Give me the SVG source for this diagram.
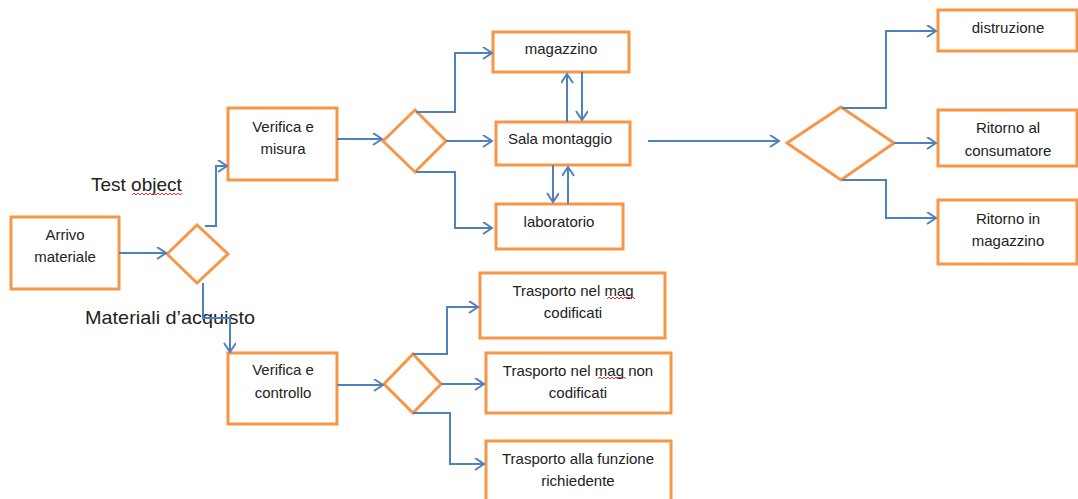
<svg xmlns="http://www.w3.org/2000/svg" width="1078" height="499" viewBox="0 0 1078 499">
<style>
.box{fill:#fff;stroke:#F79646;stroke-width:3}
.dia{fill:#fff;stroke:#F79646;stroke-width:3}
.t{font-family:"Liberation Sans",Arial,sans-serif;font-size:15px;fill:#222;text-anchor:middle}
.lbl{font-family:"Liberation Sans",Arial,sans-serif;font-size:19px;fill:#222}
.c{fill:none;stroke:#4F81BD;stroke-width:2;marker-end:url(#ah)}
.sq{fill:none;stroke:#E03030;stroke-width:1}
</style>
<defs>
<marker id="ah" markerUnits="userSpaceOnUse" markerWidth="12" markerHeight="14" refX="10" refY="6" orient="auto">
<path d="M1,0 L10,6 L1,12" fill="none" stroke="#4F81BD" stroke-width="2"/>
</marker>
</defs>
<rect width="1078" height="499" fill="#fff"/>

<g id="labels">
<text class="lbl" x="91" y="191">Test object</text>
<path class="sq" d="M132,195 l2,-2 l2,2 l2,-2 l2,2 l2,-2 l2,2 l2,-2 l2,2 l2,-2 l2,2 l2,-2 l2,2 l2,-2 l2,2 l2,-2 l2,2 l2,-2 l2,2 l2,-2 l2,2 l2,-2 l2,2 l2,-2 l2,2 l2,-2"/>
<text class="lbl" x="85" y="324" textLength="170" lengthAdjust="spacingAndGlyphs">Materiali d’acquisto</text>
</g>

<g id="arrivo"><rect class="box" x="11" y="217" width="108" height="72"/><text class="t" x="65" y="240">Arrivo</text><text class="t" x="65" y="262">materiale</text></g>
<g id="d1"><polygon class="dia" points="167,254 197,225 228,254 197,283"/></g>
<g id="verifica-misura"><rect class="box" x="228" y="108" width="109" height="72"/><text class="t" x="283" y="132">Verifica e</text><text class="t" x="283" y="154">misura</text></g>
<g id="d2"><polygon class="dia" points="383,141 415,110 446,141 415,172"/></g>
<g id="magazzino"><rect class="box" x="493" y="32" width="136" height="40"/><text class="t" x="561" y="54">magazzino</text></g>
<g id="sala"><rect class="box" x="496" y="122" width="134" height="43"/><text class="t" x="560" y="144">Sala montaggio</text></g>
<g id="laboratorio"><rect class="box" x="496" y="204" width="127" height="45"/><text class="t" x="559" y="227">laboratorio</text></g>
<g id="d4"><polygon class="dia" points="787,143 841,107 894,143 841,180"/></g>
<g id="distruzione"><rect class="box" x="938" y="10" width="139" height="41"/><text class="t" x="1008" y="33">distruzione</text></g>
<g id="consumatore"><rect class="box" x="938" y="110" width="139" height="56"/><text class="t" x="1008" y="133">Ritorno al</text><text class="t" x="1008" y="156">consumatore</text></g>
<g id="ritorno-mag"><rect class="box" x="938" y="200" width="139" height="64"/><text class="t" x="1008" y="224">Ritorno in</text><text class="t" x="1008" y="246">magazzino</text></g>
<g id="verifica-controllo"><rect class="box" x="228" y="353" width="109" height="71"/><text class="t" x="283" y="375">Verifica e</text><text class="t" x="283" y="398">controllo</text></g>
<g id="d3"><polygon class="dia" points="384,384 413,354 441,384 413,413"/></g>
<g id="tr-cod"><rect class="box" x="480" y="273" width="185" height="65"/><text class="t" x="573" y="296">Trasporto nel mag</text><text class="t" x="573" y="318">codificati</text>
<path class="sq" d="M607,299 l2,-2 l2,2 l2,-2 l2,2 l2,-2 l2,2 l2,-2 l2,2 l2,-2 l2,2 l2,-2 l2,2 l2,-2 l2,2"/></g>
<g id="tr-noncod"><rect class="box" x="486" y="353" width="185" height="60"/><text class="t" x="578" y="376">Trasporto nel mag non</text><text class="t" x="578" y="398">codificati</text>
<path class="sq" d="M598,379 l2,-2 l2,2 l2,-2 l2,2 l2,-2 l2,2 l2,-2 l2,2 l2,-2 l2,2 l2,-2 l2,2 l2,-2 l2,2"/></g>
<g id="tr-funz"><rect class="box" x="486" y="441" width="185" height="62"/><text class="t" x="578" y="464">Trasporto alla funzione</text><text class="t" x="578" y="486">richiedente</text></g>

<g id="connectors">
<path class="c" d="M119,253 H166"/>
<path class="c" d="M205,226 H216 V166 H227"/>
<path class="c" d="M203,283 V318 H230 V352"/>
<path class="c" d="M337,139 H382"/>
<path class="c" d="M416,112 H455 V53 H492"/>
<path class="c" d="M446,141 H492"/>
<path class="c" d="M416,172 H455 V228 H492"/>
<path class="c" d="M567,122 V74"/>
<path class="c" d="M582,72 V120"/>
<path class="c" d="M553,165 V202"/>
<path class="c" d="M568,204 V167"/>
<path class="c" d="M648,141 H779"/>
<path class="c" d="M842,108 H886 V31 H936"/>
<path class="c" d="M894,143 H936"/>
<path class="c" d="M842,180 H886 V218 H936"/>
<path class="c" d="M337,385 H383"/>
<path class="c" d="M413,354 H447 V307 H478"/>
<path class="c" d="M441,384 H484"/>
<path class="c" d="M413,413 H450 V464 H484"/>
</g>
</svg>
